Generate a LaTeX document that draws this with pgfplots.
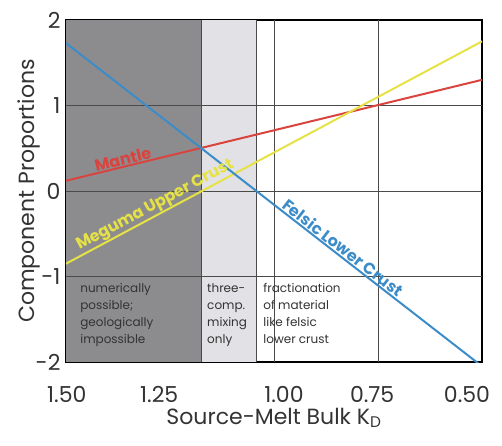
\documentclass[border=0pt]{standalone}
\usepackage{pgfplots}
\pgfplotsset{compat=1.18}
\usepackage{fontspec}
\setmainfont{Poppins}
\definecolor{darkreg}{HTML}{8C8C8F}
\definecolor{lightreg}{HTML}{E2E2E6}
\definecolor{gridc}{HTML}{4A4A4A}
\definecolor{mred}{HTML}{D9443F}
\definecolor{myel}{HTML}{E6E245}
\definecolor{mblue}{HTML}{3B8CC8}
\definecolor{txt}{HTML}{333333}
\begin{document}
\begin{tikzpicture}
\path[use as bounding box] (-66pt,-83pt) rectangle (436pt,362pt);
\begin{axis}[
  scale only axis, width=416pt, height=342pt,
  x dir=reverse, xmin=0.5, xmax=1.5, ymin=-2, ymax=2,
  axis line style={line width=2pt, black},
  major tick length=0pt,
  xtick={1.498,1.276,0.976,0.764,0.536},
  xticklabels={1.50,1.25,1.00,0.75,0.50},
  ytick={-2,-1,0,1,2},
  yticklabels={-2,-1,0,1,2},
  tick label style={font=\fontsize{22}{26}\selectfont, text=txt},
  xticklabel style={yshift=-21pt},
  yticklabel style={xshift=-2pt},
  xlabel={Source-Melt Bulk K\textsubscript{D}},
  ylabel={Component Proportions},
  label style={font=\fontsize{22}{26}\selectfont, text=txt},
  xlabel style={yshift=2pt},
  ylabel style={yshift=-11pt},
  clip=true,
]
% regions
\addplot[fill=darkreg, draw=none] coordinates {(1.5,-2) (1.175,-2) (1.175,2) (1.5,2)} -- cycle;
\addplot[fill=lightreg, draw=none] coordinates {(1.175,-2) (1.042,-2) (1.042,2) (1.175,2)} -- cycle;
% grid lines
\addplot[gridc, line width=0.9pt] coordinates {(1.175,-2) (1.175,2)};
\addplot[gridc, line width=0.9pt] coordinates {(1.042,-2) (1.042,2)};
\addplot[gridc, line width=0.9pt] coordinates {(1.0,-2) (1.0,2)};
\addplot[gridc, line width=0.9pt] coordinates {(0.75,-2) (0.75,2)};
\addplot[gridc, line width=0.9pt] coordinates {(1.5,1) (0.5,1)};
\addplot[gridc, line width=0.9pt] coordinates {(1.5,0) (0.5,0)};
\addplot[gridc, line width=0.9pt] coordinates {(1.5,-1) (0.5,-1)};
% component lines
\addplot[mred, line width=2pt] coordinates {(1.5,0.12) (0.5,1.30)};
\addplot[myel, line width=2pt] coordinates {(1.5,-0.85) (0.5,1.75)};
\addplot[mblue, line width=2pt] coordinates {(1.5,1.73) (0.5,-2.05)};
% line labels
\node[text=mred, rotate=13.6, font=\fontsize{16}{18}\selectfont\bfseries] at (axis cs:1.363,0.37) {Mantle};
\node[text=myel, rotate=28.1, font=\fontsize{16}{18}\selectfont\bfseries] at (axis cs:1.285,-0.17) {Meguma Upper Crust};
\node[text=mblue, rotate=-37.8, font=\fontsize{16}{18}\selectfont\bfseries] at (axis cs:0.834,-0.66) {Felsic Lower Crust};
% region texts
\node[anchor=north west, align=left, text=txt, font=\fontsize{12}{17}\selectfont, inner sep=0pt] at (axis cs:1.466,-1.08) {numerically\\possible;\\geologically\\impossible};
\node[anchor=north west, align=left, text=txt, font=\fontsize{12}{17}\selectfont, inner sep=0pt] at (axis cs:1.161,-1.08) {three-\\comp.\\mixing\\only};
\node[anchor=north west, align=left, text=txt, font=\fontsize{12}{17}\selectfont, inner sep=0pt] at (axis cs:1.026,-1.08) {fractionation\\of material\\like felsic\\lower crust};
\end{axis}
\end{tikzpicture}
\end{document}
